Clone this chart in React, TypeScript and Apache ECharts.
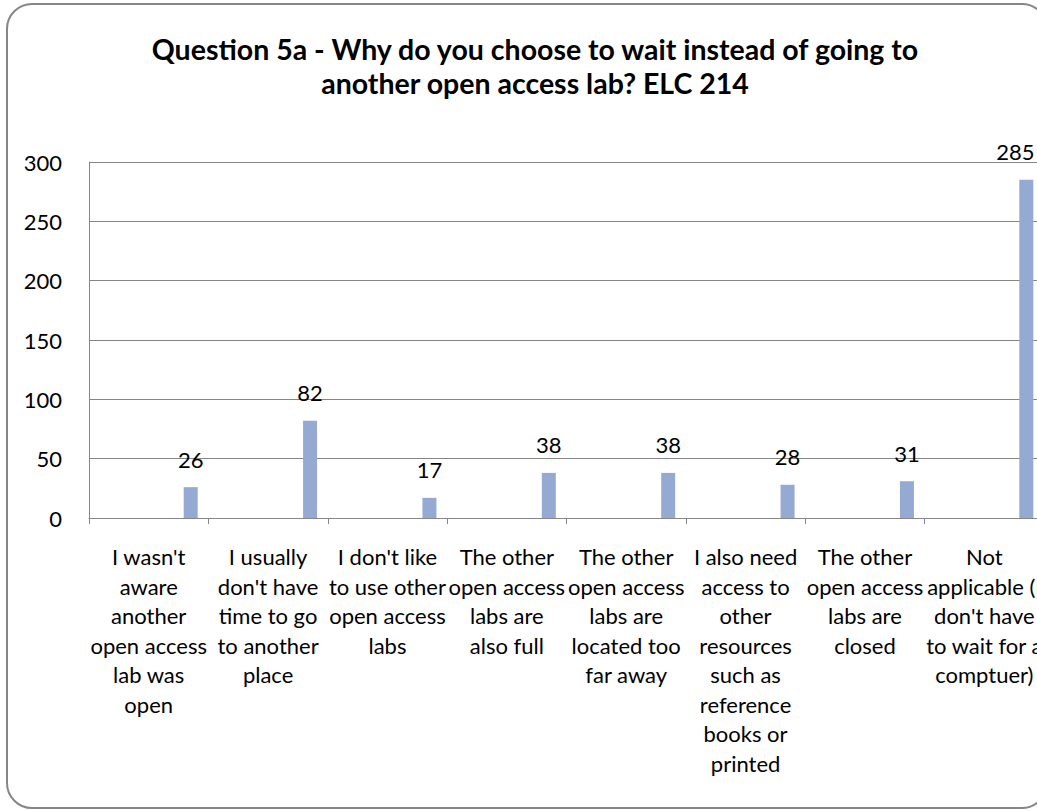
import React, { useEffect, useRef } from "react";
import * as echarts from "echarts";

const titleLines = [
  "Question 5a - Why do you choose to wait instead of going to",
  "another open access lab? ELC 214",
];

const categories = [
  "I wasn't\naware\nanother\nopen access\nlab was\nopen",
  "I usually\ndon't have\ntime to go\nto another\nplace",
  "I don't like\nto use other\nopen access\nlabs",
  "The other\nopen access\nlabs are\nalso full",
  "The other\nopen access\nlabs are\nlocated too\nfar away",
  "I also need\naccess to\nother\nresources\nsuch as\nreference\nbooks or\nprinted",
  "The other\nopen access\nlabs are\nclosed",
  "Not\napplicable (I\ndon't have\nto wait for a\ncomptuer)",
];

const counts = [26, 82, 17, 38, 38, 28, 31, 285];

const yMin = 0;
const yMax = 300;
const yStep = 50;

const FONT = "Lato";

export default function App() {
  const ref = useRef<HTMLDivElement>(null);

  useEffect(() => {
    if (!ref.current) return;
    const chart = echarts.init(ref.current, null, { renderer: "svg" });
    const last = counts.length - 1;
    chart.setOption({
      animation: false,
      backgroundColor: "#ffffff",
      textStyle: { fontFamily: FONT, color: "#000" },
      graphic: [
        {
          type: "rect",
          shape: { x: 7, y: 4, width: 1040, height: 804, r: 25 },
          style: { fill: "none", stroke: "#868686", lineWidth: 2 },
          silent: true,
          z: -1,
        },
        {
          type: "text",
          x: 535,
          y: 66,
          style: {
            text: titleLines.join("\n"),
            fontFamily: FONT,
            fontWeight: "bold",
            fontSize: 28.5,
            lineHeight: 34,
            fill: "#000",
            align: "center",
            verticalAlign: "middle",
          },
        },
      ],
      grid: { left: 89, right: 16, top: 162, bottom: 293, containLabel: false },
      xAxis: {
        type: "category",
        data: categories,
        boundaryGap: true,
        axisLine: { show: true, lineStyle: { color: "#868686", width: 1 } },
        axisTick: { show: true, length: 6, lineStyle: { color: "#868686" } },
        axisLabel: {
          interval: 0,
          margin: 24,
          fontFamily: FONT,
          fontSize: 22,
          lineHeight: 29.5,
          color: "#000",
          align: "center",
        },
      },
      yAxis: {
        type: "value",
        min: yMin,
        max: yMax,
        interval: yStep,
        axisLine: { show: true, lineStyle: { color: "#868686", width: 1 } },
        axisTick: { show: false },
        splitLine: { show: true, lineStyle: { color: "#868686", width: 1 } },
        axisLabel: {
          margin: 27,
          fontFamily: FONT,
          fontSize: 22,
          color: "#000",
        },
      },
      series: [
        {
          type: "bar",
          data: counts.map(() => null),
          barWidth: 14,
          barGap: "500%",
          silent: true,
        },
        {
          type: "bar",
          data: counts.map((v, i) =>
            i === last ? { value: v, label: { offset: [-11, 0] } } : v
          ),
          barWidth: 14,
          barGap: "500%",
          itemStyle: { color: "#94AAD3" },
          label: {
            show: true,
            position: "top",
            distance: 16,
            fontFamily: FONT,
            fontSize: 22,
            lineHeight: 24,
            color: "#000",
          },
        },
      ],
    });
    return () => chart.dispose();
  }, []);

  return (
    <div
      style={{
        position: "fixed",
        left: 0,
        top: 0,
        width: 1037,
        height: 811,
        overflow: "hidden",
        background: "#fff",
      }}
    >
      <div ref={ref} style={{ width: 1060, height: 811 }} />
    </div>
  );
}
